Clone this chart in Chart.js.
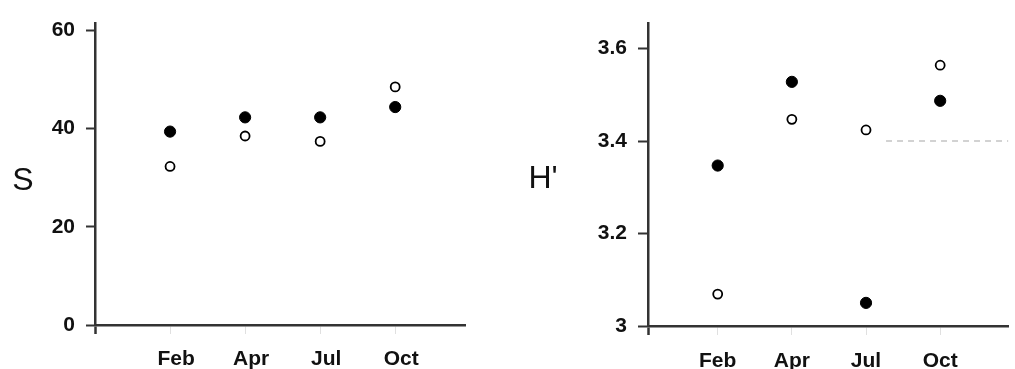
<!DOCTYPE html>
<html>
<head>
<meta charset="utf-8">
<script src="https://cdn.jsdelivr.net/npm/chart.js@4.4.0/dist/chart.umd.min.js"></script>
<style>
  html, body { margin:0; padding:0; background:#fff; }
  #wrap { position:relative; width:1015px; height:369px; overflow:hidden; }
  .box { position:absolute; top:0; height:369px; }
  #boxS { left:0; width:510px; }
  #boxH { left:510px; width:505px; }
</style>
</head>
<body>
<div id="wrap">
  <div class="box" id="boxS"><canvas id="chartS" width="510" height="369"></canvas></div>
  <div class="box" id="boxH"><canvas id="chartH" width="505" height="369"></canvas></div>
</div>
<script>
// Data
const months   = ['Feb','Apr','Jul','Oct'];
const monthPos = [1, 2, 3, 4];

// species richness S
const sFilled = [39.4, 42.3, 42.3, 44.4];
const sOpen   = [32.3, 38.5, 37.4, 48.5];
const sTicks  = [0, 20, 40, 60];

// diversity H'
const hFilled = [3.347, 3.528, 3.050, 3.487];
const hOpen   = [3.069, 3.447, 3.424, 3.564];
const hTicks  = [3, 3.2, 3.4, 3.6];

// faint dashed reference line in the H' panel
const hRefX = [3.27, 4.92];
const hRefY = [3.4, 3.4];

const AXIS = '#333';
const TXT  = '#111';
const tickFont = { family:"'Liberation Sans', Arial, sans-serif", size:21, weight:'bold' };

// upright axis name ("S", "H'") on the left of each panel
const sideLabel = {
  id: 'sideLabel',
  afterDraw(chart, args, o){
    const c = chart.ctx;
    c.save();
    c.font = o.font; c.fillStyle = o.color;
    c.textAlign = 'center'; c.textBaseline = 'middle';
    c.fillText(o.text, o.x, o.y);
    c.restore();
  }
};

const pts = (xs, ys) => xs.map((x,i)=>({ x, y: ys[i] }));

function makePanel(el, cfg){
  const datasets = [
    { label:'filled', data: pts(monthPos, cfg.filled), pointStyle:'circle', pointRadius:5.6, pointBorderWidth:1,
      backgroundColor:'#000', borderColor:'#000' },
    { label:'open', data: pts(monthPos, cfg.open), pointStyle:'circle', pointRadius:4.5, pointBorderWidth:1.8,
      backgroundColor:'#fff', borderColor:'#000' }
  ];
  if(cfg.ref){
    datasets.push({ type:'line', label:'ref', data: pts(cfg.ref.x, cfg.ref.y), borderColor:'#c4c4c4',
      borderWidth:1.5, borderDash:[6,5], pointRadius:0, fill:false });
  }
  return new Chart(el, {
    type: 'scatter',
    data: { datasets },
    plugins: [sideLabel],
    options: {
      responsive:false, animation:false, devicePixelRatio:1,
      layout: { padding: cfg.pad },
      plugins: {
        legend:{ display:false }, tooltip:{ enabled:false },
        sideLabel: { text: cfg.name, x: cfg.nameX, y: cfg.nameY, color:TXT, font:"32px 'Liberation Sans', Arial, sans-serif" }
      },
      scales: {
        x: {
          type:'linear', min: cfg.xMin, max: cfg.xMax,
          afterBuildTicks: s => { s.ticks = [s.min, ...monthPos].map(v=>({ value:v })); },
          afterFit: s => { s.height = cfg.xH; },
          ticks: {
            callback: v => { const i = monthPos.indexOf(v); return i < 0 ? '' : months[i]; },
            font: tickFont, color: TXT, padding: cfg.xPad, labelOffset: cfg.labelOffset,
            autoSkip:false, maxRotation:0
          },
          grid: {
            drawOnChartArea:false, tickLength:9,
            tickColor: c => (c.tick && c.tick.value === c.scale.min) ? AXIS : '#e0e0e0',
            tickWidth: c => (c.tick && c.tick.value === c.scale.min) ? 2.5 : 1
          },
          border: { color:AXIS, width:2.5 }
        },
        y: {
          type:'linear', min: cfg.yMin, max: cfg.yMax,
          afterBuildTicks: s => { s.ticks = cfg.yTicks.map(v=>({ value:v })); },
          afterFit: s => { s.width = cfg.yW; },
          ticks: { font: tickFont, color: TXT, padding: 11, callback: v => String(v) },
          grid: { drawOnChartArea:false, tickLength:cfg.yTickLen, tickColor:AXIS, tickWidth:2 },
          border: { color:AXIS, width:2.5 }
        }
      }
    }
  });
}

makePanel(document.getElementById('chartS'), {
  filled: sFilled, open: sOpen, yTicks: sTicks,
  yMin: 0, yMax: 61.4, xMin: 0, xMax: 4.93,
  pad: { top:20, right:45, bottom:0, left:0 },
  yW: 95, xH: 44, xPad: 13, labelOffset: 6, yTickLen: 9,
  name: 'S', nameX: 23, nameY: 181
});

makePanel(document.getElementById('chartH'), {
  filled: hFilled, open: hOpen, yTicks: hTicks, ref: { x: hRefX, y: hRefY },
  yMin: 3, yMax: 3.654, xMin: 0.06, xMax: 4.92,
  pad: { top:22, right:0, bottom:0, left:0 },
  yW: 138, xH: 43, xPad: 14, labelOffset: 0, yTickLen: 10,
  name: "H'", nameX: 33, nameY: 179
});
</script>
</body>
</html>
